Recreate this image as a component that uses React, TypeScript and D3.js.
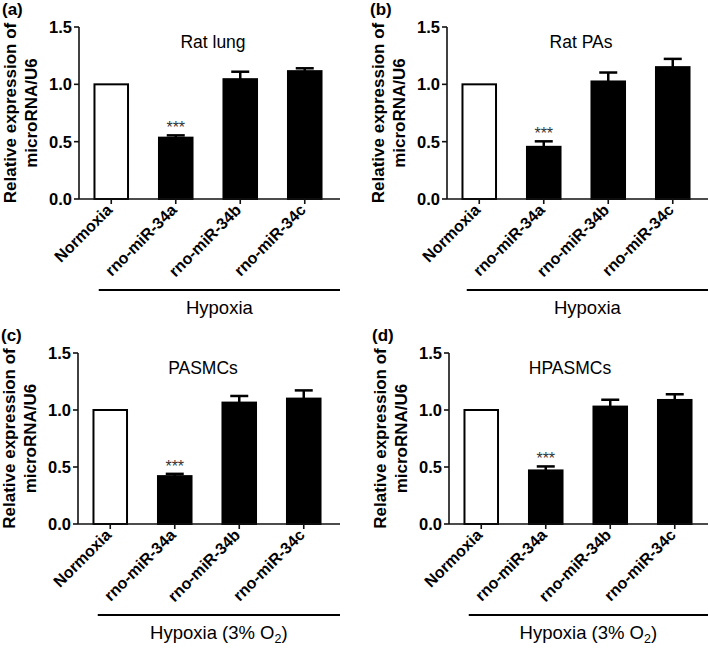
import React from 'react';
import * as d3 from 'd3';

const categories = ['Normoxia', 'rno-miR-34a', 'rno-miR-34b', 'rno-miR-34c'];
const panelLetters = ['(a)', '(b)', '(c)', '(d)'];
const panelTitles = ['Rat lung', 'Rat PAs', 'PASMCs', 'HPASMCs'];
const groupLabels = ['Hypoxia', 'Hypoxia', 'Hypoxia (3% O', 'Hypoxia (3% O'];
const groupSubs = ['', '', '2', '2'];
const yTicks = [0, 0.5, 1.0, 1.5];

const meanA = [1, 0.535, 1.045, 1.115];
const errA = [0, 0.02, 0.065, 0.025];
const meanB = [1, 0.455, 1.025, 1.15];
const errB = [0, 0.048, 0.078, 0.072];
const meanC = [1, 0.42, 1.065, 1.1];
const errC = [0, 0.02, 0.058, 0.072];
const meanD = [1, 0.47, 1.03, 1.088];
const errD = [0, 0.035, 0.06, 0.05];

const means = [meanA, meanB, meanC, meanD];
const errs = [errA, errB, errC, errD];

// panel frames: axis left, 1.5 line, 0 line, axis end, title centre offset
const frames = [
  { left: 79, top: 27, bottom: 199, right: 340, titleDx: 134 },
  { left: 447, top: 27, bottom: 199, right: 708, titleDx: 134 },
  { left: 78, top: 353, bottom: 524, right: 340, titleDx: 125 },
  { left: 449, top: 353, bottom: 524, right: 708, titleDx: 121 },
];

const FONT = '"Liberation Sans", Arial, Helvetica, sans-serif';

function Panel({ i }: { i: number }) {
  const f = frames[i];
  const x = d3.scaleBand<string>()
    .domain(categories)
    .range([f.left, f.left + 258])
    .paddingInner(0.48)
    .paddingOuter(0.24);
  const y = d3.scaleLinear().domain([0, 1.5]).range([f.bottom, f.top]);
  const bw = x.bandwidth();
  const vals = means[i];
  const ers = errs[i];
  const lineStart = (x(categories[1]) as number) + bw / 2 - 77;
  const lineEnd = f.right;
  const lineY = f.bottom + 91;
  const midY = (f.top + f.bottom) / 2;

  return (
    <g>
      <text x={f.left - 77} y={f.top - 12} fontFamily={FONT} fontWeight="bold" fontSize={17}>
        {panelLetters[i]}
      </text>

      <g transform={`translate(${f.left - 63},${midY}) rotate(-90)`}>
        <text textAnchor="middle" fontFamily={FONT} fontWeight="bold" fontSize={17}>
          Relative expression of
        </text>
        <text y={20.5} textAnchor="middle" fontFamily={FONT} fontWeight="bold" fontSize={17}>
          microRNA/U6
        </text>
      </g>

      {yTicks.map((t) => (
        <g key={t}>
          <line x1={f.left - 5} x2={f.left} y1={y(t)} y2={y(t)} stroke="#111" strokeWidth={1.6} />
          <text
            x={f.left - 7}
            y={y(t)}
            dy="0.36em"
            textAnchor="end"
            fontFamily={FONT}
            fontWeight="bold"
            fontSize={16.5}
          >
            {t.toFixed(1)}
          </text>
        </g>
      ))}

      <text x={f.left + f.titleDx} y={f.top + 21} textAnchor="middle" fontFamily={FONT} fontSize={17.5}>
        {panelTitles[i]}
      </text>

      {categories.map((c, j) => {
        const bx = x(c) as number;
        const cx = bx + bw / 2;
        const top = y(vals[j]);
        const capY = y(vals[j] + ers[j]);
        return (
          <g key={c}>
            {ers[j] > 0 && (
              <g>
                <line x1={cx} x2={cx} y1={top} y2={capY} stroke="#000" strokeWidth={2.5} />
                <line x1={cx - 9} x2={cx + 9} y1={capY} y2={capY} stroke="#000" strokeWidth={2.5} />
              </g>
            )}
            <rect
              x={bx}
              y={top}
              width={bw}
              height={f.bottom - top}
              fill={j === 0 ? '#fff' : '#000'}
              stroke="#000"
              strokeWidth={2}
            />
            <line x1={cx} x2={cx} y1={f.bottom} y2={f.bottom + 5} stroke="#111" strokeWidth={1.6} />
            <text
              transform={`translate(${cx + 2},${f.bottom + 12}) rotate(-45)`}
              textAnchor="end"
              fontFamily={FONT}
              fontWeight="bold"
              fontSize={16}
            >
              {c}
            </text>
            {j === 1 && (
              <text
                x={cx}
                y={capY - 2}
                textAnchor="middle"
                fontFamily={FONT}
                fontSize={16}
                fill="#333"
              >
                ***
              </text>
            )}
          </g>
        );
      })}

      <line x1={f.left} x2={f.left} y1={f.top} y2={f.bottom} stroke="#111" strokeWidth={1.6} />
      <line x1={f.left} x2={f.right} y1={f.bottom} y2={f.bottom} stroke="#111" strokeWidth={1.6} />

      <line x1={lineStart} x2={lineEnd} y1={lineY} y2={lineY} stroke="#000" strokeWidth={2.2} />
      <text
        x={(lineStart + lineEnd) / 2}
        y={f.bottom + 115}
        textAnchor="middle"
        fontFamily={FONT}
        fontSize={18.5}
      >
        {groupLabels[i]}
        {groupSubs[i] && (
          <tspan fontSize={12.5} dy={4}>{groupSubs[i]}</tspan>
        )}
        {groupSubs[i] && <tspan dy={-4}>)</tspan>}
      </text>
    </g>
  );
}

export default function App() {
  return (
    <svg
      width={709}
      height={648}
      style={{ position: 'absolute', left: 0, top: 0, background: '#fff' }}
    >
      <rect width={709} height={648} fill="#fff" />
      {frames.map((_, i) => (
        <Panel key={i} i={i} />
      ))}
    </svg>
  );
}
